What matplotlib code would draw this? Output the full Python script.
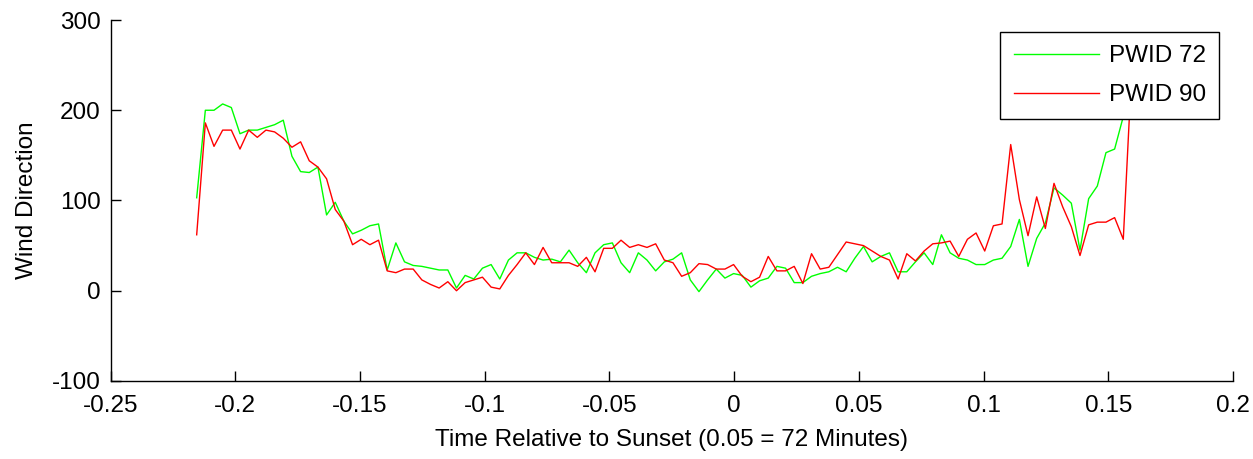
import numpy as np
import matplotlib
matplotlib.use("Agg")
import matplotlib.pyplot as plt

# -----------------------------
# Dados (leitura do gráfico)
# -----------------------------
# amostras a cada 5 minutos; eixo x = fração do dia relativa ao pôr do sol
t_start = -0.2155
t_step = 5.0 / 1440.0

pwid72 = [103, 200, 200, 207, 203, 174, 178, 178, 181, 184,
          189, 149, 132, 131, 137, 84, 98, 77, 63, 67,
          72, 74, 23, 53, 32, 28, 27, 25, 23, 23,
          3, 17, 13, 25, 29, 13, 34, 42, 42, 37,
          34, 35, 32, 45, 31, 20, 42, 51, 53, 31,
          20, 42, 34, 22, 32, 35, 42, 12, -1, 12,
          24, 14, 19, 17, 4, 11, 14, 27, 25, 9,
          9, 16, 19, 21, 26, 21, 36, 49, 32, 38,
          42, 21, 21, 32, 42, 29, 62, 42, 36, 34,
          29, 29, 34, 36, 49, 79, 27, 58, 75, 114,
          106, 97, 45, 102, 116, 153, 157, 193, 230]

pwid90 = [62, 186, 160, 178, 178, 157, 178, 170, 178, 176,
          169, 159, 165, 144, 137, 124, 90, 77, 51, 57,
          51, 56, 22, 20, 24, 24, 12, 7, 3, 10,
          0, 9, 12, 15, 4, 2, 17, 29, 42, 29,
          48, 31, 31, 31, 27, 37, 21, 47, 47, 56,
          48, 51, 48, 52, 34, 31, 16, 20, 30, 29,
          24, 24, 29, 16, 10, 15, 38, 22, 22, 27,
          8, 41, 24, 26, 40, 54, 52, 50, 44, 38,
          34, 13, 41, 33, 44, 52, 53, 55, 38, 57,
          64, 44, 72, 74, 162, 101, 61, 104, 69, 119,
          93, 71, 39, 73, 76, 76, 81, 57, 250]

x_ticks = [-0.25, -0.2, -0.15, -0.1, -0.05, 0, 0.05, 0.1, 0.15, 0.2]
x_labels = ["-0.25", "-0.2", "-0.15", "-0.1", "-0.05", "0", "0.05", "0.1", "0.15", "0.2"]
y_ticks = [-100, 0, 100, 200, 300]
y_labels = ["-100", "0", "100", "200", "300"]

t = t_start + t_step * np.arange(len(pwid72))

# -----------------------------
# Figura
# -----------------------------
plt.rcParams["font.family"] = ["Liberation Sans", "DejaVu Sans"]
fs = 17.5

fig = plt.figure(figsize=(12.53, 4.59), dpi=100)
ax = fig.add_axes([0.0883, 0.170, 0.8957, 0.7864])

ax.plot(t, pwid72, color="#00ff00", lw=1.0, label="PWID 72")
ax.plot(t, pwid90, color="#ff0000", lw=1.0, label="PWID 90")

ax.set_xlim(-0.25, 0.2)
ax.set_ylim(-100, 300)
ax.set_xticks(x_ticks)
ax.set_xticklabels(x_labels)
ax.set_yticks(y_ticks)
ax.set_yticklabels(y_labels)
ax.tick_params(direction="in", length=7, width=1, labelsize=fs)
ax.tick_params(axis="x", pad=10)
ax.tick_params(axis="y", pad=7)

for side in ("top", "right"):
    ax.spines[side].set_visible(False)
for side in ("left", "bottom"):
    ax.spines[side].set_linewidth(1.0)

ax.set_xlabel("Time Relative to Sunset (0.05 = 72 Minutes)", fontsize=fs, labelpad=9)
ax.set_ylabel("Wind Direction", fontsize=fs, labelpad=10)

leg = ax.legend(loc="upper right", bbox_to_anchor=(1219 / 1253, 1 - 31.7 / 459),
                bbox_transform=fig.transFigure, borderaxespad=0, fontsize=fs,
                fancybox=False, framealpha=1, edgecolor="black",
                handlelength=3.5, handletextpad=0.4, borderpad=0.55, labelspacing=0.7)
leg.get_frame().set_linewidth(1.0)
leg.set_zorder(5)

fig.savefig("out.png", dpi=100)
